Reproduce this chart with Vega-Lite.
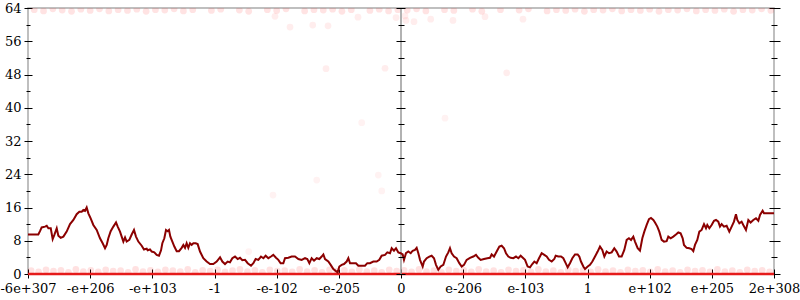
{
  "$schema": "https://vega.github.io/schema/vega-lite/v6.json",
  "width": 746,
  "height": 266,
  "autosize": {"type": "none"},
  "padding": {"left": 28, "top": 8, "right": 26, "bottom": 26},
  "background": "white",
  "config": {
    "view": {"stroke": "#aaaaaa", "strokeWidth": 1.5},
    "font": "DejaVu Serif",
    "axis": {"grid": false, "domain": false, "labelFont": "DejaVu Serif", "labelFontSize": 13, "labelColor": "#000000", "tickColor": "#000000", "tickWidth": 1}
  },
  "datasets": {
    "walk": [
      {"x":-6.0,"y":9.5},{"x":-5.834,"y":9.5},{"x":-5.807,"y":10.3},{"x":-5.780,"y":11.2},{"x":-5.726,"y":11.4},{"x":-5.699,"y":11.6},{"x":-5.672,"y":11.0},{"x":-5.634,"y":11.0},{"x":-5.603,"y":8.4},{"x":-5.576,"y":9.4},{"x":-5.538,"y":11.0},{"x":-5.512,"y":9.2},{"x":-5.474,"y":8.7},{"x":-5.431,"y":9.0},{"x":-5.378,"y":10.2},{"x":-5.324,"y":12.0},{"x":-5.270,"y":13.0},{"x":-5.217,"y":14.4},{"x":-5.174,"y":15.0},{"x":-5.136,"y":15.0},{"x":-5.110,"y":15.4},{"x":-5.083,"y":15.2},{"x":-5.056,"y":16.0},{"x":-5.029,"y":14.6},{"x":-4.992,"y":13.4},{"x":-4.949,"y":11.8},{"x":-4.895,"y":10.6},{"x":-4.842,"y":8.6},{"x":-4.799,"y":7.4},{"x":-4.761,"y":6.2},{"x":-4.734,"y":7.0},{"x":-4.708,"y":8.6},{"x":-4.670,"y":10.3},{"x":-4.627,"y":11.4},{"x":-4.584,"y":12.4},{"x":-4.557,"y":11.4},{"x":-4.520,"y":10.2},{"x":-4.493,"y":9.0},{"x":-4.466,"y":7.8},{"x":-4.439,"y":8.8},{"x":-4.413,"y":7.8},{"x":-4.370,"y":8.2},{"x":-4.332,"y":9.5},{"x":-4.295,"y":10.6},{"x":-4.263,"y":9.0},{"x":-4.225,"y":7.8},{"x":-4.171,"y":6.8},{"x":-4.134,"y":5.9},{"x":-4.091,"y":6.1},{"x":-4.075,"y":5.7},{"x":-4.037,"y":5.9},{"x":-4.010,"y":5.4},{"x":-3.968,"y":5.2},{"x":-3.930,"y":4.6},{"x":-3.893,"y":4.4},{"x":-3.860,"y":5.7},{"x":-3.839,"y":7.4},{"x":-3.807,"y":8.6},{"x":-3.780,"y":10.6},{"x":-3.753,"y":10.3},{"x":-3.732,"y":10.6},{"x":-3.710,"y":9.0},{"x":-3.678,"y":7.8},{"x":-3.646,"y":6.6},{"x":-3.608,"y":5.5},{"x":-3.571,"y":5.5},{"x":-3.528,"y":6.3},{"x":-3.501,"y":7.0},{"x":-3.474,"y":6.3},{"x":-3.448,"y":7.4},{"x":-3.421,"y":6.3},{"x":-3.394,"y":7.4},{"x":-3.367,"y":7.0},{"x":-3.340,"y":7.4},{"x":-3.303,"y":7.4},{"x":-3.271,"y":7.2},{"x":-3.233,"y":5.4},{"x":-3.180,"y":3.8},{"x":-3.126,"y":3.0},{"x":-3.072,"y":2.4},{"x":-3.019,"y":2.4},{"x":-2.965,"y":3.0},{"x":-2.911,"y":4.0},{"x":-2.874,"y":3.0},{"x":-2.831,"y":2.4},{"x":-2.788,"y":3.0},{"x":-2.751,"y":2.8},{"x":-2.713,"y":3.8},{"x":-2.670,"y":4.2},{"x":-2.627,"y":3.6},{"x":-2.590,"y":3.9},{"x":-2.552,"y":3.3},{"x":-2.509,"y":3.4},{"x":-2.466,"y":2.6},{"x":-2.413,"y":2.0},{"x":-2.375,"y":2.6},{"x":-2.338,"y":3.6},{"x":-2.295,"y":3.4},{"x":-2.252,"y":4.2},{"x":-2.214,"y":3.8},{"x":-2.177,"y":4.4},{"x":-2.134,"y":3.8},{"x":-2.091,"y":4.2},{"x":-2.054,"y":4.6},{"x":-2.011,"y":3.9},{"x":-1.973,"y":3.4},{"x":-1.936,"y":2.6},{"x":-1.893,"y":2.6},{"x":-1.866,"y":3.8},{"x":-1.812,"y":3.9},{"x":-1.759,"y":4.2},{"x":-1.705,"y":4.2},{"x":-1.651,"y":3.6},{"x":-1.598,"y":3.4},{"x":-1.544,"y":3.8},{"x":-1.507,"y":3.6},{"x":-1.474,"y":2.6},{"x":-1.437,"y":3.8},{"x":-1.399,"y":3.2},{"x":-1.356,"y":3.8},{"x":-1.314,"y":3.6},{"x":-1.276,"y":4.2},{"x":-1.249,"y":4.7},{"x":-1.222,"y":3.6},{"x":-1.169,"y":3.0},{"x":-1.131,"y":2.2},{"x":-1.088,"y":1.2},{"x":-1.046,"y":0.7},{"x":-1.019,"y":0.4},{"x":-0.992,"y":1.8},{"x":-0.954,"y":2.2},{"x":-0.917,"y":2.4},{"x":-0.874,"y":3.0},{"x":-0.847,"y":3.8},{"x":-0.820,"y":2.6},{"x":-0.777,"y":2.6},{"x":-0.724,"y":2.6},{"x":-0.686,"y":2.0},{"x":-0.633,"y":2.0},{"x":-0.579,"y":2.0},{"x":-0.542,"y":2.6},{"x":-0.499,"y":2.6},{"x":-0.445,"y":3.0},{"x":-0.391,"y":3.0},{"x":-0.349,"y":3.4},{"x":-0.311,"y":4.4},{"x":-0.257,"y":4.6},{"x":-0.220,"y":5.2},{"x":-0.177,"y":5.0},{"x":-0.150,"y":6.2},{"x":-0.113,"y":5.6},{"x":-0.080,"y":6.2},{"x":-0.043,"y":5.2},{"x":-0.005,"y":5.0},{"x":0.027,"y":4.7},{"x":0.048,"y":3.4},{"x":0.080,"y":5.0},{"x":0.118,"y":5.4},{"x":0.156,"y":5.0},{"x":0.188,"y":5.6},{"x":0.225,"y":5.8},{"x":0.252,"y":6.3},{"x":0.279,"y":5.0},{"x":0.306,"y":3.4},{"x":0.349,"y":1.8},{"x":0.370,"y":3.0},{"x":0.413,"y":3.8},{"x":0.456,"y":4.2},{"x":0.493,"y":4.4},{"x":0.531,"y":3.8},{"x":0.563,"y":2.2},{"x":0.600,"y":1.0},{"x":0.638,"y":1.8},{"x":0.681,"y":2.2},{"x":0.724,"y":4.2},{"x":0.761,"y":5.2},{"x":0.788,"y":6.2},{"x":0.815,"y":5.0},{"x":0.853,"y":4.2},{"x":0.895,"y":3.8},{"x":0.938,"y":2.6},{"x":0.976,"y":1.8},{"x":1.013,"y":2.2},{"x":1.056,"y":3.4},{"x":1.110,"y":3.9},{"x":1.163,"y":4.2},{"x":1.206,"y":4.6},{"x":1.244,"y":3.9},{"x":1.281,"y":3.4},{"x":1.335,"y":3.6},{"x":1.389,"y":3.8},{"x":1.432,"y":3.9},{"x":1.458,"y":4.7},{"x":1.496,"y":4.2},{"x":1.539,"y":5.4},{"x":1.582,"y":6.6},{"x":1.619,"y":6.8},{"x":1.657,"y":6.2},{"x":1.689,"y":5.0},{"x":1.726,"y":4.2},{"x":1.764,"y":3.9},{"x":1.807,"y":3.8},{"x":1.850,"y":4.2},{"x":1.887,"y":3.8},{"x":1.925,"y":4.4},{"x":1.968,"y":3.8},{"x":1.995,"y":3.4},{"x":2.037,"y":1.8},{"x":2.075,"y":1.6},{"x":2.112,"y":2.4},{"x":2.145,"y":3.0},{"x":2.182,"y":2.6},{"x":2.220,"y":3.8},{"x":2.263,"y":5.0},{"x":2.305,"y":4.6},{"x":2.343,"y":4.2},{"x":2.381,"y":3.4},{"x":2.424,"y":3.0},{"x":2.466,"y":3.6},{"x":2.488,"y":4.4},{"x":2.531,"y":4.2},{"x":2.574,"y":4.2},{"x":2.611,"y":3.8},{"x":2.649,"y":2.6},{"x":2.681,"y":1.6},{"x":2.718,"y":2.6},{"x":2.756,"y":3.8},{"x":2.799,"y":4.7},{"x":2.842,"y":4.7},{"x":2.868,"y":4.2},{"x":2.895,"y":3.0},{"x":2.933,"y":1.8},{"x":2.960,"y":1.2},{"x":3.003,"y":1.8},{"x":3.040,"y":2.2},{"x":3.078,"y":3.0},{"x":3.121,"y":4.2},{"x":3.163,"y":5.4},{"x":3.201,"y":6.6},{"x":3.238,"y":5.8},{"x":3.271,"y":4.2},{"x":3.308,"y":5.4},{"x":3.346,"y":5.0},{"x":3.389,"y":5.2},{"x":3.431,"y":6.2},{"x":3.469,"y":5.4},{"x":3.507,"y":4.2},{"x":3.549,"y":4.2},{"x":3.592,"y":5.8},{"x":3.630,"y":8.2},{"x":3.667,"y":8.6},{"x":3.700,"y":8.2},{"x":3.737,"y":9.0},{"x":3.764,"y":7.8},{"x":3.807,"y":6.2},{"x":3.844,"y":5.6},{"x":3.882,"y":8.6},{"x":3.914,"y":10.2},{"x":3.952,"y":11.8},{"x":3.989,"y":13.2},{"x":4.021,"y":13.5},{"x":4.059,"y":13.0},{"x":4.086,"y":12.4},{"x":4.123,"y":11.4},{"x":4.155,"y":10.2},{"x":4.193,"y":8.2},{"x":4.230,"y":7.8},{"x":4.273,"y":7.9},{"x":4.300,"y":9.0},{"x":4.338,"y":8.6},{"x":4.380,"y":9.0},{"x":4.423,"y":9.5},{"x":4.461,"y":10.0},{"x":4.498,"y":9.8},{"x":4.531,"y":8.6},{"x":4.552,"y":7.0},{"x":4.595,"y":6.3},{"x":4.638,"y":6.2},{"x":4.675,"y":6.0},{"x":4.702,"y":5.5},{"x":4.729,"y":7.0},{"x":4.766,"y":8.2},{"x":4.799,"y":10.2},{"x":4.836,"y":10.6},{"x":4.874,"y":12.0},{"x":4.906,"y":11.0},{"x":4.927,"y":11.8},{"x":4.960,"y":11.0},{"x":4.997,"y":11.8},{"x":5.035,"y":12.8},{"x":5.067,"y":13.0},{"x":5.104,"y":12.6},{"x":5.131,"y":11.4},{"x":5.158,"y":12.0},{"x":5.195,"y":11.4},{"x":5.238,"y":11.6},{"x":5.281,"y":10.2},{"x":5.319,"y":11.4},{"x":5.356,"y":12.6},{"x":5.388,"y":14.4},{"x":5.410,"y":13.0},{"x":5.442,"y":12.2},{"x":5.479,"y":12.6},{"x":5.506,"y":11.8},{"x":5.549,"y":10.6},{"x":5.587,"y":13.0},{"x":5.624,"y":12.4},{"x":5.667,"y":13.0},{"x":5.710,"y":13.4},{"x":5.748,"y":12.8},{"x":5.775,"y":14.2},{"x":5.817,"y":15.2},{"x":5.839,"y":14.6},{"x":5.882,"y":14.6},{"x":6.0,"y":14.6}
    ],
    "lowDots": [
      {"x":-5.95,"y":0.8},{"x":-5.83,"y":0.5},{"x":-5.71,"y":1.0},{"x":-5.59,"y":0.7},{"x":-5.47,"y":0.9},{"x":-5.35,"y":0.4},{"x":-5.23,"y":1.1},{"x":-5.11,"y":0.6},{"x":-4.99,"y":0.9},{"x":-4.87,"y":0.5},{"x":-4.75,"y":1.0},{"x":-4.63,"y":0.7},{"x":-4.51,"y":0.8},{"x":-4.39,"y":0.4},{"x":-4.27,"y":1.1},{"x":-4.15,"y":0.6},{"x":-4.03,"y":0.9},{"x":-3.91,"y":0.5},{"x":-3.79,"y":1.0},{"x":-3.67,"y":0.8},{"x":-3.55,"y":0.6},{"x":-3.43,"y":1.1},{"x":-3.31,"y":0.4},{"x":-3.19,"y":0.9},{"x":-3.07,"y":0.7},{"x":-2.95,"y":1.0},{"x":-2.83,"y":0.5},{"x":-2.71,"y":0.8},{"x":-2.59,"y":1.1},{"x":-2.47,"y":0.6},{"x":-2.35,"y":0.9},{"x":-2.23,"y":0.4},{"x":-2.11,"y":1.0},{"x":-1.99,"y":0.7},{"x":-1.87,"y":0.8},{"x":-1.75,"y":0.5},{"x":-1.63,"y":1.1},{"x":-1.51,"y":0.6},{"x":-1.39,"y":0.9},{"x":-1.27,"y":0.4},{"x":-1.15,"y":1.0},{"x":-1.03,"y":0.7},{"x":-0.91,"y":0.9},{"x":-0.79,"y":0.5},{"x":-0.67,"y":1.1},{"x":-0.55,"y":0.6},{"x":-0.43,"y":0.8},{"x":-0.31,"y":0.4},{"x":-0.19,"y":1.0},{"x":-0.07,"y":0.7},{"x":0.05,"y":0.9},{"x":0.17,"y":0.5},{"x":0.29,"y":1.1},{"x":0.41,"y":0.6},{"x":0.53,"y":0.8},{"x":0.65,"y":0.4},{"x":0.77,"y":1.0},{"x":0.89,"y":0.7},{"x":1.01,"y":0.9},{"x":1.13,"y":0.5},{"x":1.25,"y":1.1},{"x":1.37,"y":0.6},{"x":1.49,"y":0.8},{"x":1.61,"y":0.4},{"x":1.73,"y":1.0},{"x":1.85,"y":0.7},{"x":1.97,"y":0.9},{"x":2.09,"y":0.5},{"x":2.21,"y":1.1},{"x":2.33,"y":0.6},{"x":2.45,"y":0.8},{"x":2.57,"y":0.4},{"x":2.69,"y":1.0},{"x":2.81,"y":0.7},{"x":2.93,"y":0.9},{"x":3.05,"y":0.5},{"x":3.17,"y":1.1},{"x":3.29,"y":0.6},{"x":3.41,"y":0.8},{"x":3.53,"y":0.4},{"x":3.65,"y":1.0},{"x":3.77,"y":0.7},{"x":3.89,"y":0.9},{"x":4.01,"y":0.5},{"x":4.13,"y":1.1},{"x":4.25,"y":0.6},{"x":4.37,"y":0.8},{"x":4.49,"y":0.4},{"x":4.61,"y":1.0},{"x":4.73,"y":0.7},{"x":4.85,"y":0.9},{"x":4.97,"y":0.5},{"x":5.09,"y":1.1},{"x":5.21,"y":0.6},{"x":5.33,"y":0.8},{"x":5.45,"y":0.4},{"x":5.57,"y":1.0},{"x":5.69,"y":0.7},{"x":5.81,"y":0.9},{"x":5.93,"y":0.5}
    ],
    "highDots": [
      {"x":-5.90,"y":63.6},{"x":-5.75,"y":63.3},{"x":-5.60,"y":63.8},{"x":-5.45,"y":63.5},{"x":-5.30,"y":63.2},{"x":-5.15,"y":63.7},{"x":-5.00,"y":63.4},{"x":-4.85,"y":63.8},{"x":-4.70,"y":63.3},{"x":-4.55,"y":63.6},{"x":-4.40,"y":63.4},{"x":-4.25,"y":63.7},{"x":-4.10,"y":63.2},{"x":-3.95,"y":63.6},{"x":-3.80,"y":63.5},{"x":-3.65,"y":63.8},{"x":-3.50,"y":63.3},{"x":-3.35,"y":63.6},{"x":-3.05,"y":63.4},{"x":-2.90,"y":63.7},{"x":-2.60,"y":63.5},{"x":-2.45,"y":63.2},{"x":-2.15,"y":63.6},{"x":-2.00,"y":63.4},{"x":-1.85,"y":63.8},{"x":-1.55,"y":63.3},{"x":-1.40,"y":63.6},{"x":-1.25,"y":63.5},{"x":-1.10,"y":63.7},{"x":-0.95,"y":63.2},{"x":-0.80,"y":63.6},{"x":-0.50,"y":63.4},{"x":-0.35,"y":63.7},{"x":-0.20,"y":63.3},{"x":-0.05,"y":63.6},{"x":0.10,"y":63.5},{"x":0.25,"y":63.8},{"x":0.40,"y":63.3},{"x":0.70,"y":63.6},{"x":0.85,"y":63.4},{"x":1.15,"y":63.7},{"x":1.30,"y":63.2},{"x":1.60,"y":63.6},{"x":1.90,"y":63.5},{"x":2.05,"y":63.8},{"x":2.35,"y":63.3},{"x":2.50,"y":63.6},{"x":2.65,"y":63.4},{"x":2.80,"y":63.7},{"x":2.95,"y":63.2},{"x":3.10,"y":63.6},{"x":3.25,"y":63.5},{"x":3.40,"y":63.8},{"x":3.55,"y":63.3},{"x":3.70,"y":63.6},{"x":3.85,"y":63.4},{"x":4.00,"y":63.7},{"x":4.15,"y":63.2},{"x":4.30,"y":63.6},{"x":4.45,"y":63.5},{"x":4.60,"y":63.8},{"x":4.75,"y":63.3},{"x":4.90,"y":63.6},{"x":5.05,"y":63.4},{"x":5.20,"y":63.7},{"x":5.35,"y":63.2},{"x":5.50,"y":63.6},{"x":5.65,"y":63.5},{"x":5.80,"y":63.8},{"x":5.95,"y":63.4}
    ],
    "upperStray": [
      {"x":-2.027,"y":62.0},{"x":-1.785,"y":59.4},{"x":-1.420,"y":59.9},{"x":-1.174,"y":59.7},{"x":-1.206,"y":49.4},{"x":-0.692,"y":61.8},{"x":-0.257,"y":49.5},{"x":-0.080,"y":61.7},{"x":0.064,"y":62.1},{"x":0.080,"y":61.0},{"x":0.209,"y":60.7},{"x":0.478,"y":61.3},{"x":0.836,"y":61.0},{"x":1.351,"y":61.9},{"x":1.962,"y":61.3},{"x":1.700,"y":48.4}
    ],
    "midStray": [
      {"x":-0.632,"y":36.4},{"x":-0.365,"y":23.8},{"x":-0.310,"y":20.0},{"x":0.708,"y":37.5},{"x":-2.059,"y":19.0},{"x":-1.356,"y":22.6},{"x":-2.450,"y":5.4}
    ],
    "zeroLine": [{"y": 0}],
    "centre": [{"x": 0}]
  },
  "resolve": {"axis": {"x": "independent", "y": "independent"}},
  "layer": [
    {
      "data": {"name": "lowDots"},
      "mark": {"type": "point", "filled": true, "color": "#ff1a1a", "opacity": 0.13, "size": 45, "clip": true},
      "encoding": {
        "x": {"field": "x", "type": "quantitative", "scale": {"domain": [-6, 6], "nice": false, "zero": false},
          "axis": {"orient": "bottom", "offset": -5, "tickSize": 9, "values": [-6,-5,-4,-3,-2,-1,0,1,2,3,4,5,6], "labelPadding": 4, "labelOverlap": false, "labelFlush": false, "title": null,
            "labelExpr": "['-6e+307','-e+206','-e+103','-1','-e-102','-e-205','0','e-206','e-103','1','e+102','e+205','2e+308'][datum.value + 6]"}},
        "y": {"field": "y", "type": "quantitative", "scale": {"domain": [0, 64], "nice": false},
          "axis": {"orient": "left", "offset": -377, "tickSize": 9, "values": [0,8,16,24,32,40,48,56,64], "labels": false, "title": null, "zindex": 1}}
      }
    },
    {
      "data": {"name": "highDots"},
      "mark": {"type": "point", "filled": true, "color": "#ff1a1a", "opacity": 0.12, "size": 45, "clip": true},
      "encoding": {
        "x": {"field": "x", "type": "quantitative", "axis": null},
        "y": {"field": "y", "type": "quantitative",
          "axis": {"orient": "left", "offset": -376, "tickSize": 6, "values": [4,12,20,28,36,44,52,60], "labels": false, "title": null, "zindex": 1}}
      }
    },
    {
      "data": {"name": "upperStray"},
      "mark": {"type": "point", "filled": true, "color": "#ff1a1a", "opacity": 0.08, "size": 45, "clip": true},
      "encoding": {
        "x": {"field": "x", "type": "quantitative", "axis": null},
        "y": {"field": "y", "type": "quantitative",
          "axis": {"orient": "right", "offset": -5, "tickSize": 11, "values": [0,8,16,24,32,40,48,56,64], "labels": false, "title": null}}
      }
    },
    {
      "data": {"name": "midStray"},
      "mark": {"type": "point", "filled": true, "color": "#ff1a1a", "opacity": 0.06, "size": 45, "clip": true},
      "encoding": {
        "x": {"field": "x", "type": "quantitative", "axis": null},
        "y": {"field": "y", "type": "quantitative",
          "axis": {"orient": "right", "offset": -3, "tickSize": 6, "values": [4,12,20,28,36,44,52,60], "labels": false, "title": null}}
      }
    },
    {
      "data": {"name": "zeroLine"},
      "mark": {"type": "rule", "color": "#e51a1a", "strokeWidth": 2.5},
      "encoding": {
        "y": {"field": "y", "type": "quantitative",
          "axis": {"orient": "left", "offset": -2, "tickSize": 4, "values": [4,12,20,28,36,44,52,60], "labels": false, "title": null}}
      }
    },
    {
      "data": {"name": "centre"},
      "mark": {"type": "rule", "color": "#999999", "strokeWidth": 1.5},
      "encoding": {
        "x": {"field": "x", "type": "quantitative", "axis": null}
      }
    },
    {
      "data": {"name": "walk"},
      "mark": {"type": "line", "color": "#8b0000", "strokeWidth": 2, "clip": true},
      "encoding": {
        "x": {"field": "x", "type": "quantitative", "axis": null},
        "y": {"field": "y", "type": "quantitative",
          "axis": {"orient": "left", "offset": -4, "tickSize": 8, "labelPadding": 3, "values": [0,8,16,24,32,40,48,56,64], "format": "d", "title": null}}
      }
    }
  ]
}
